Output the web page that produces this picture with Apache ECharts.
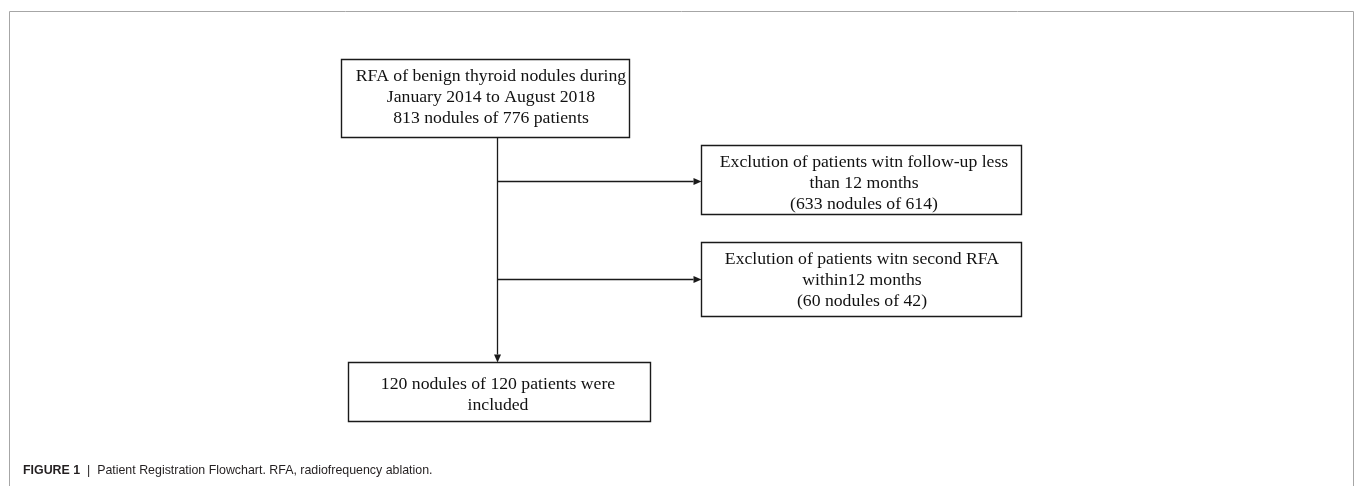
<!DOCTYPE html>
<html><head><meta charset="utf-8">
<script src="https://cdn.jsdelivr.net/npm/echarts@6/dist/echarts.min.js"></script>
<style>html,body{margin:0;padding:0;background:#fff}#c{width:1355px;height:486px}</style>
</head><body><div id="c"></div>
<script>
// ---- content ----
const nodeTexts = [
  "RFA of benign thyroid nodules during\nJanuary 2014 to August 2018\n813 nodules of 776 patients",
  "Exclution of patients witn follow-up less\nthan 12 months\n(633 nodules of 614)",
  "Exclution of patients witn second RFA\nwithin12 months\n(60 nodules of 42)",
  "120 nodules of 120 patients were\nincluded"
];
const links = [[0, 3], [0, 1], [0, 2]];
const captionLabel = "FIGURE 1";
const captionText = "Patient Registration Flowchart. RFA, radiofrequency ablation.";

// ---- layout (frame units = pixels of the 1355x486 figure) ----
const boxLayout = [
  {x0: 341.5, y0: 59.5, x1: 629.5, y1: 137.5, tx: 491, ty: 97.5},
  {x0: 701.5, y0: 145.5, x1: 1021.5, y1: 214.5, tx: 864, ty: 183.5},
  {x0: 701.5, y0: 242.5, x1: 1021.5, y1: 316.5, tx: 862, ty: 280.5},
  {x0: 348.5, y0: 362.5, x1: 650.5, y1: 421.5, tx: 498, ty: 395}
];
const trunkX = 497.5;
const linkLayout = [
  [[trunkX, 137.5], [trunkX, 362.5]],
  [[trunkX, 181.5], [701.5, 181.5]],
  [[trunkX, 279.5], [701.5, 279.5]]
];

const chart = echarts.init(document.getElementById('c'), null, {renderer: 'canvas'});
const ink = '#1a1a1a';
chart.setOption({
  animation: false,
  backgroundColor: '#fff',
  grid: {left: 0, right: 0, top: 0, bottom: 0},
  xAxis: {type: 'value', min: 0, max: 1355, show: false},
  yAxis: {type: 'value', min: 0, max: 486, inverse: true, show: false},
  title: {
    left: 23, top: 465, padding: 0,
    text: '{b|' + captionLabel + '}{n|  |  ' + captionText + '}',
    textStyle: {
      fontWeight: 'normal',
      rich: {
        b: {fontFamily: 'Liberation Sans', fontWeight: 'bold', fontSize: 12.4, color: '#231f20'},
        n: {fontFamily: 'Liberation Sans', fontWeight: 'normal', fontSize: 12.4, color: '#231f20'}
      }
    }
  },
  graphic: [{
    type: 'polyline', silent: true,
    shape: {points: [[9.5, 486], [9.5, 11.5], [1353.5, 11.5], [1353.5, 486]]},
    style: {stroke: '#a6a6a6', lineWidth: 1, fill: null}
  }],
  series: [
    {
      type: 'custom', coordinateSystem: 'cartesian2d', silent: true,
      data: links.map((l, i) => [i, l[0], l[1]]),
      renderItem: function (params, api) {
        const i = api.value(0);
        const pts = linkLayout[i].map(p => api.coord(p));
        const a = pts[0], b = pts[1];
        const dx = b[0] - a[0], dy = b[1] - a[1];
        const len = Math.sqrt(dx * dx + dy * dy);
        const ux = dx / len, uy = dy / len;
        const hl = 8, hw = 3.5;
        const base = [b[0] - ux * hl, b[1] - uy * hl];
        return {
          type: 'group',
          children: [
            {type: 'line', shape: {x1: a[0], y1: a[1], x2: base[0], y2: base[1]},
              style: {stroke: ink, lineWidth: 1.3}},
            {type: 'polygon', shape: {points: [b,
              [base[0] - uy * hw, base[1] + ux * hw],
              [base[0] + uy * hw, base[1] - ux * hw]]},
              style: {fill: ink}}
          ]
        };
      }
    },
    {
      type: 'custom', coordinateSystem: 'cartesian2d', silent: true,
      data: nodeTexts.map((t, i) => [i]),
      renderItem: function (params, api) {
        const i = api.value(0);
        const b = boxLayout[i];
        const p0 = api.coord([b.x0, b.y0]), p1 = api.coord([b.x1, b.y1]);
        const c = api.coord([b.tx, b.ty]);
        return {
          type: 'group',
          children: [
            {type: 'rect', shape: {x: p0[0], y: p0[1], width: p1[0] - p0[0], height: p1[1] - p0[1]},
              style: {fill: '#fff', stroke: ink, lineWidth: 1.4}},
            {type: 'text', x: c[0], y: c[1],
              style: {text: nodeTexts[i], fontFamily: 'Liberation Serif', fontSize: 17.7,
                fill: '#111', align: 'center', verticalAlign: 'middle', lineHeight: 21}}
          ]
        };
      }
    }
  ]
});
</script>
</body></html>
